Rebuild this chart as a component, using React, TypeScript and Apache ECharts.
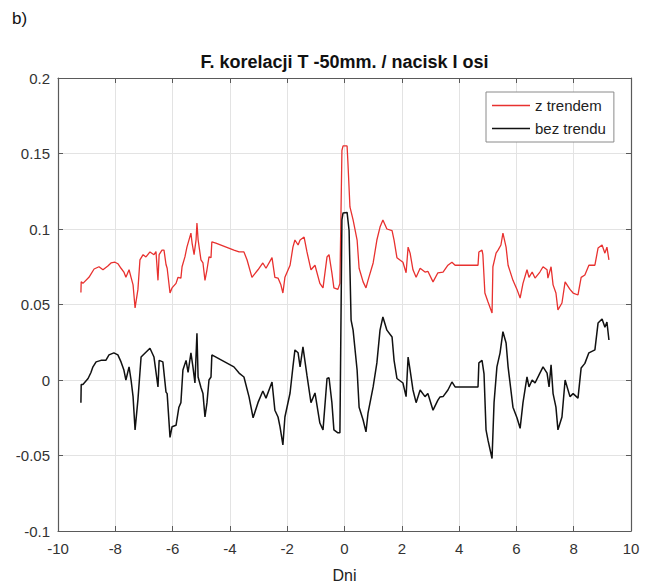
import React, { useEffect, useRef } from "react";
import * as echarts from "echarts";

const titleText = "F. korelacji T -50mm. / nacisk I osi";
const panelLabel = "b)";
const xAxisName = "Dni";
const seriesNames = ["z trendem", "bez trendu"];

const redX = [
  -9.2, -9.19, -9.13, -8.92, -8.74, -8.57, -8.43, -8.26, -8.15, -8.01, -7.91, -7.8, -7.7, -7.63, -7.52, -7.45,
  -7.38, -7.31, -7.21, -7.14, -7.03, -6.93, -6.79, -6.65, -6.58, -6.51, -6.47, -6.37, -6.3, -6.23, -6.19, -6.09,
  -6.02, -5.88, -5.81, -5.71, -5.67, -5.57, -5.5, -5.36, -5.32, -5.25, -5.18, -5.15, -5.11, -5.01, -4.94, -4.87,
  -4.8, -4.73, -4.66, -4.63, -4.49, -3.86, -3.68, -3.51, -3.4, -3.23, -3.02, -2.85, -2.74, -2.53, -2.43, -2.32,
  -2.22, -2.15, -2.08, -1.9, -1.8, -1.73, -1.62, -1.55, -1.41, -1.31, -1.17, -1.03, -0.86, -0.75, -0.61, -0.54,
  -0.44, -0.37, -0.23, -0.16, -0.09, -0.05, 0.09, 0.12, 0.19, 0.3, 0.44, 0.51, 0.65, 0.75, 0.82, 1.0, 1.13,
  1.24, 1.34, 1.48, 1.66, 1.73, 1.83, 2.04, 2.15, 2.22, 2.29, 2.39, 2.5, 2.64, 2.81, 2.91, 3.09, 3.26, 3.44,
  3.61, 3.75, 3.86, 4.66, 4.69, 4.8, 4.83, 4.9, 5.01, 5.15, 5.18, 5.29, 5.36, 5.46, 5.53, 5.64, 5.71, 5.88,
  6.02, 6.13, 6.23, 6.37, 6.44, 6.55, 6.65, 6.82, 6.93, 7.07, 7.1, 7.21, 7.28, 7.38, 7.45, 7.59, 7.7, 7.87,
  7.98, 8.15, 8.26, 8.39, 8.53, 8.74, 8.85, 8.99, 9.09, 9.16, 9.23,
];
const redY = [
  0.058, 0.065, 0.064, 0.068, 0.0735, 0.075, 0.073, 0.0755, 0.0775, 0.078, 0.077, 0.074, 0.0715, 0.068, 0.073, 0.068,
  0.063, 0.0477, 0.06, 0.0795, 0.083, 0.0815, 0.0848, 0.083, 0.085, 0.066, 0.083, 0.086, 0.086, 0.0765, 0.074, 0.0576,
  0.061, 0.064, 0.068, 0.0675, 0.075, 0.0815, 0.088, 0.0973, 0.0907, 0.083, 0.093, 0.104, 0.093, 0.0795, 0.0775, 0.066,
  0.073, 0.0815, 0.081, 0.0915, 0.0907, 0.086, 0.0848, 0.0848, 0.0795, 0.068, 0.073, 0.0775, 0.074, 0.081, 0.068, 0.0675,
  0.063, 0.0576, 0.068, 0.076, 0.088, 0.0927, 0.0894, 0.0927, 0.0947, 0.0848, 0.073, 0.076, 0.064, 0.061, 0.0815, 0.083,
  0.071, 0.061, 0.06, 0.064, 0.152, 0.155, 0.155, 0.1437, 0.1146, 0.106, 0.0927, 0.074, 0.065, 0.061, 0.066, 0.0775, 0.0927,
  0.1013, 0.106, 0.1, 0.099, 0.0927, 0.081, 0.078, 0.071, 0.088, 0.084, 0.073, 0.068, 0.074, 0.0715, 0.072, 0.065, 0.071, 0.0715,
  0.076, 0.078, 0.076, 0.076, 0.0848, 0.086, 0.083, 0.0576, 0.0517, 0.0444, 0.075, 0.084, 0.086, 0.0894, 0.0973, 0.088, 0.076, 0.066,
  0.06, 0.0543, 0.064, 0.073, 0.068, 0.0715, 0.0675, 0.0715, 0.075, 0.073, 0.0675, 0.075, 0.063, 0.0576, 0.0464, 0.051, 0.065, 0.06,
  0.0576, 0.0563, 0.068, 0.0695, 0.076, 0.076, 0.0874, 0.0894, 0.084, 0.088, 0.0795,
];

const blackX = [
  -9.2, -9.19, -9.13, -8.95, -8.85, -8.78, -8.67, -8.5, -8.33, -8.22, -8.05, -7.91, -7.8, -7.7, -7.63, -7.52,
  -7.45, -7.38, -7.31, -7.21, -7.1, -7.03, -6.79, -6.65, -6.51, -6.47, -6.34, -6.23, -6.19, -6.09, -6.02, -5.88,
  -5.78, -5.71, -5.64, -5.53, -5.46, -5.36, -5.29, -5.22, -5.15, -5.11, -5.01, -4.94, -4.87, -4.8, -4.73, -4.66,
  -4.63, -3.86, -3.68, -3.51, -3.33, -3.19, -3.02, -2.85, -2.74, -2.53, -2.43, -2.32, -2.25, -2.15, -2.08, -1.9,
  -1.8, -1.73, -1.62, -1.55, -1.45, -1.31, -1.17, -1.03, -0.86, -0.75, -0.61, -0.54, -0.44, -0.37, -0.23, -0.16,
  -0.09, -0.05, 0.09, 0.16, 0.23, 0.3, 0.44, 0.51, 0.65, 0.75, 0.82, 1.0, 1.13, 1.24, 1.34, 1.48, 1.66, 1.73,
  1.83, 2.04, 2.15, 2.22, 2.29, 2.39, 2.5, 2.64, 2.81, 2.91, 3.09, 3.26, 3.33, 3.44, 3.61, 3.75, 3.86, 4.66,
  4.69, 4.8, 4.87, 4.94, 5.01, 5.15, 5.22, 5.32, 5.43, 5.53, 5.64, 5.71, 5.88, 6.02, 6.13, 6.23, 6.37, 6.44,
  6.55, 6.65, 6.82, 6.93, 7.07, 7.14, 7.21, 7.28, 7.38, 7.45, 7.59, 7.7, 7.87, 7.98, 8.15, 8.26, 8.39, 8.53,
  8.74, 8.85, 8.99, 9.09, 9.16, 9.23,
];
const blackY = [
  -0.015, -0.003, -0.003, 0.001, 0.005, 0.0087, 0.012, 0.013, 0.013, 0.0166, 0.018, 0.0166, 0.012, 0.0066, 0.0, 0.0087,
  0.0, -0.011, -0.033, -0.013, 0.0152, 0.0166, 0.021, 0.0152, -0.0046, 0.013, 0.012, -0.008, -0.009, -0.038, -0.031, -0.03,
  -0.018, -0.015, 0.0066, 0.013, 0.005, 0.018, 0.0087, -0.002, 0.031, 0.002, -0.005, -0.009, -0.0245, -0.015, 0.0, 0.002,
  0.0166, 0.0087, 0.0046, 0.002, -0.0113, -0.025, -0.015, -0.0073, -0.012, -0.0013, -0.02, -0.0245, -0.031, -0.043, -0.0245, -0.0086,
  0.0087, 0.0199, 0.018, 0.0087, 0.0219, 0.003, -0.015, -0.0086, -0.0285, -0.033, 0.001, 0.0015, -0.015, -0.033, -0.035, -0.035,
  0.106, 0.1106, 0.111, 0.099, 0.0397, 0.033, 0.0066, -0.018, -0.0265, -0.0344, -0.022, -0.0046, 0.0113, 0.033, 0.0417, 0.033, 0.0285, 0.013,
  0.001, -0.002, -0.011, 0.0152, 0.0066, -0.0066, -0.015, -0.0066, -0.011, -0.009, -0.02, -0.0133, -0.0113, -0.011, -0.0066, -0.0013, -0.0046, -0.0046,
  0.0113, 0.013, 0.004, -0.033, -0.04, -0.052, -0.015, 0.0087, 0.018, 0.032, 0.0245, 0.0087, -0.018, -0.025, -0.032, -0.015, 0.002, -0.0046,
  0.0, -0.002, 0.0046, 0.0087, 0.0046, -0.0046, 0.01, -0.009, -0.018, -0.033, -0.0245, 0.0, -0.011, -0.009, -0.012, 0.008, 0.011, 0.018,
  0.02, 0.0377, 0.0404, 0.035, 0.0384, 0.0265,
];

const xMin = -10, xMax = 10, xStep = 2;
const yMin = -0.1, yMax = 0.2, yStep = 0.05;

const FONT = "'Liberation Sans', Arial, Helvetica, sans-serif";

export default function App() {
  const ref = useRef<HTMLDivElement>(null);
  useEffect(() => {
    if (!ref.current) return;
    const chart = echarts.init(ref.current, undefined, { renderer: "svg" });
    const redData = redX.map((x, i) => [x, redY[i]]);
    const blackData = blackX.map((x, i) => [x, blackY[i]]);
    const boxColor = "#5a5a5a";
    const gridL = 58, gridT = 78, gridR = 631, gridB = 531;
    const baseAxis = {
      axisLine: { show: true, onZero: false, lineStyle: { color: boxColor, width: 1.2 } },
      axisTick: { show: true, inside: true, length: 5, lineStyle: { color: boxColor } },
    };
    chart.setOption({
      animation: false,
      backgroundColor: "#ffffff",
      grid: { left: gridL, top: gridT, right: 654 - gridR, bottom: 585 - gridB, containLabel: false },
      xAxis: [
        {
          type: "value", min: xMin, max: xMax, interval: xStep, position: "bottom",
          ...baseAxis,
          axisLabel: { color: "#333", fontSize: 15, fontFamily: FONT, margin: 10 },
          splitLine: { show: true, lineStyle: { color: "#e3e3e3", width: 1 } },
        },
        {
          type: "value", min: xMin, max: xMax, interval: xStep, position: "top",
          ...baseAxis,
          axisLabel: { show: false },
          splitLine: { show: false },
        },
      ],
      yAxis: [
        {
          type: "value", min: yMin, max: yMax, interval: yStep, position: "left",
          ...baseAxis,
          axisLabel: { color: "#333", fontSize: 15, fontFamily: FONT, margin: 8 },
          splitLine: { show: true, lineStyle: { color: "#e3e3e3", width: 1 } },
        },
        {
          type: "value", min: yMin, max: yMax, interval: yStep, position: "right",
          ...baseAxis,
          axisLabel: { show: false },
          splitLine: { show: false },
        },
      ],
      legend: {
        left: 486, top: 92, orient: "vertical",
        padding: [6, 8, 6, 6], itemGap: 8, itemWidth: 38, itemHeight: 1.5, itemTextGap: 4,
        backgroundColor: "#ffffff", borderColor: "#8a8a8a", borderWidth: 1,
        textStyle: { color: "#222", fontSize: 15, fontFamily: FONT },
        data: [
          { name: seriesNames[0], icon: "rect" },
          { name: seriesNames[1], icon: "rect" },
        ],
      },
      series: [
        {
          name: seriesNames[0], type: "line", data: redData, showSymbol: false, symbol: "none",
          lineStyle: { color: "#e8312f", width: 1.3 }, itemStyle: { color: "#e8312f" },
        },
        {
          name: seriesNames[1], type: "line", data: blackData, showSymbol: false, symbol: "none",
          lineStyle: { color: "#111111", width: 1.5 }, itemStyle: { color: "#111111" },
        },
      ],
      graphic: [
        {
          type: "text", x: 344.5, y: 62,
          style: {
            text: titleText, font: `bold 18px ${FONT}`, fill: "#111",
            align: "center", verticalAlign: "middle", textAlign: "center", textVerticalAlign: "middle",
          },
        },
        {
          type: "text", x: 12, y: 18,
          style: {
            text: panelLabel, font: `17px ${FONT}`, fill: "#111",
            align: "left", verticalAlign: "middle", textAlign: "left", textVerticalAlign: "middle",
          },
        },
        {
          type: "text", x: 344.5, y: 575,
          style: {
            text: xAxisName, font: `16px ${FONT}`, fill: "#222",
            align: "center", verticalAlign: "middle", textAlign: "center", textVerticalAlign: "middle",
          },
        },
      ],
    });
    return () => chart.dispose();
  }, []);
  return (
    <div
      ref={ref}
      style={{ position: "fixed", left: 0, top: 0, width: 654, height: 585, background: "#fff" }}
    />
  );
}
